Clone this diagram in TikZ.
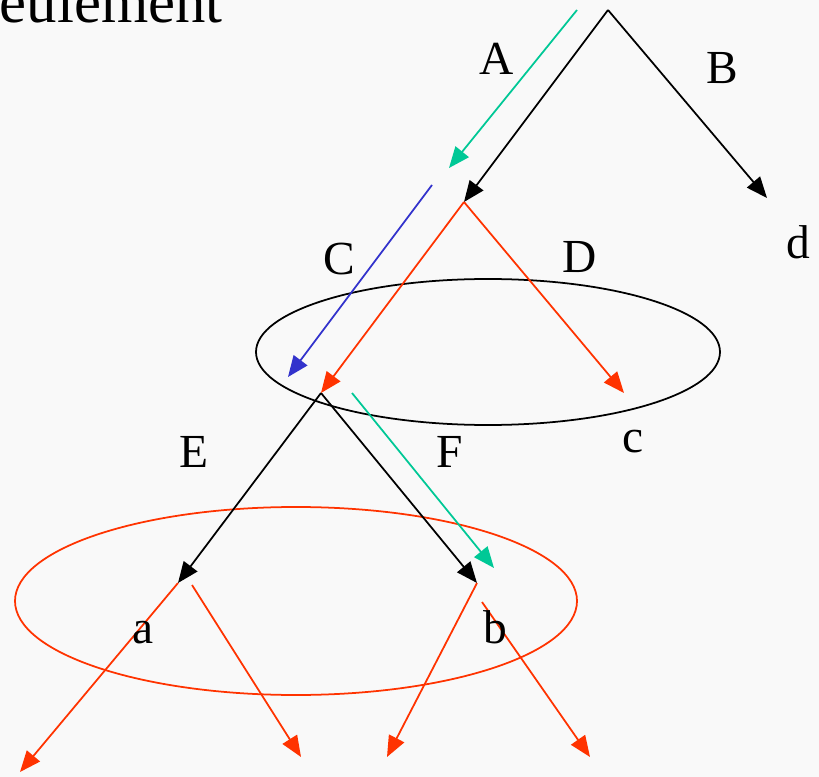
\documentclass[tikz,border=0pt]{standalone}
\usepackage{fontspec}
\setmainfont{Liberation Serif}
\usetikzlibrary{arrows.meta}
\definecolor{fond}{HTML}{F9F9F9}
\definecolor{vert}{HTML}{00C896}
\definecolor{rouge}{HTML}{FF3300}
\definecolor{bleu}{HTML}{3333CC}

\begin{document}
\begin{tikzpicture}[x=0.02cm,y=-0.02cm,
  fl/.style={-{Triangle[length=0.42cm,width=0.34cm]},line width=1pt},
  lbl/.style={anchor=base,inner sep=0pt,font=\fontsize{27}{32}\selectfont}
]
  \fill[fond] (0,0) rectangle (819,777);
  \useasboundingbox (0,0) rectangle (819,777);
  \node[anchor=base east,inner sep=0pt,font=\fontsize{34.6}{40}\selectfont] (titre) at (223,23) {eulement};

  % points of the tree
  \coordinate (racine) at (608,10);
  \coordinate (n1) at (464,202);
  \coordinate (fd) at (767,198);
  \coordinate (n2) at (321,393);
  \coordinate (fc) at (624,393);
  \coordinate (na) at (178,583);
  \coordinate (nb) at (477,583);
  \coordinate (na2) at (192,585);
  \coordinate (nb2) at (482,602);
  \coordinate (f1) at (20,772);
  \coordinate (f2) at (301,757);
  \coordinate (f3) at (387,757);
  \coordinate (f4) at (590,757);
  \coordinate (v1) at (577,10);
  \coordinate (v2) at (449,168);
  \coordinate (v3) at (352,393);
  \coordinate (v4) at (494,568);
  \coordinate (b1) at (432,185);
  \coordinate (b2) at (288,377);

  % ellipses
  \draw[line width=1pt] (488,352) ellipse [x radius=232,y radius=73];
  \draw[rouge,line width=1pt] (296,601) ellipse [x radius=281,y radius=94];

  % black edges
  \draw[fl] (racine) -- (n1);
  \draw[fl] (racine) -- (fd);
  \draw[fl] (n2) -- (na);
  \draw[fl] (n2) -- (nb);
  % red edges
  \draw[fl,rouge] (n1) -- (n2);
  \draw[fl,rouge] (n1) -- (fc);
  \draw[fl,rouge] (na) -- (f1);
  \draw[fl,rouge] (na2) -- (f2);
  \draw[fl,rouge] (nb) -- (f3);
  \draw[fl,rouge] (nb2) -- (f4);
  % green and blue
  \draw[fl,vert] (v1) -- (v2);
  \draw[fl,vert] (v3) -- (v4);
  \draw[fl,bleu] (b1) -- (b2);

  % labels
  \node[lbl] (lA) at (497,75) {A};
  \node[lbl] (lB) at (722,84) {B};
  \node[lbl] (lC) at (339,275) {C};
  \node[lbl] (lD) at (580,273) {D};
  \node[lbl] (ld) at (798,258) {d};
  \node[lbl] (lc) at (633,452) {c};
  \node[lbl] (lE) at (194,467) {E};
  \node[lbl] (lF) at (450,467) {F};
  \node[lbl] (la) at (143,643) {a};
  \node[lbl] (lb) at (495,643) {b};
\end{tikzpicture}
\end{document}
